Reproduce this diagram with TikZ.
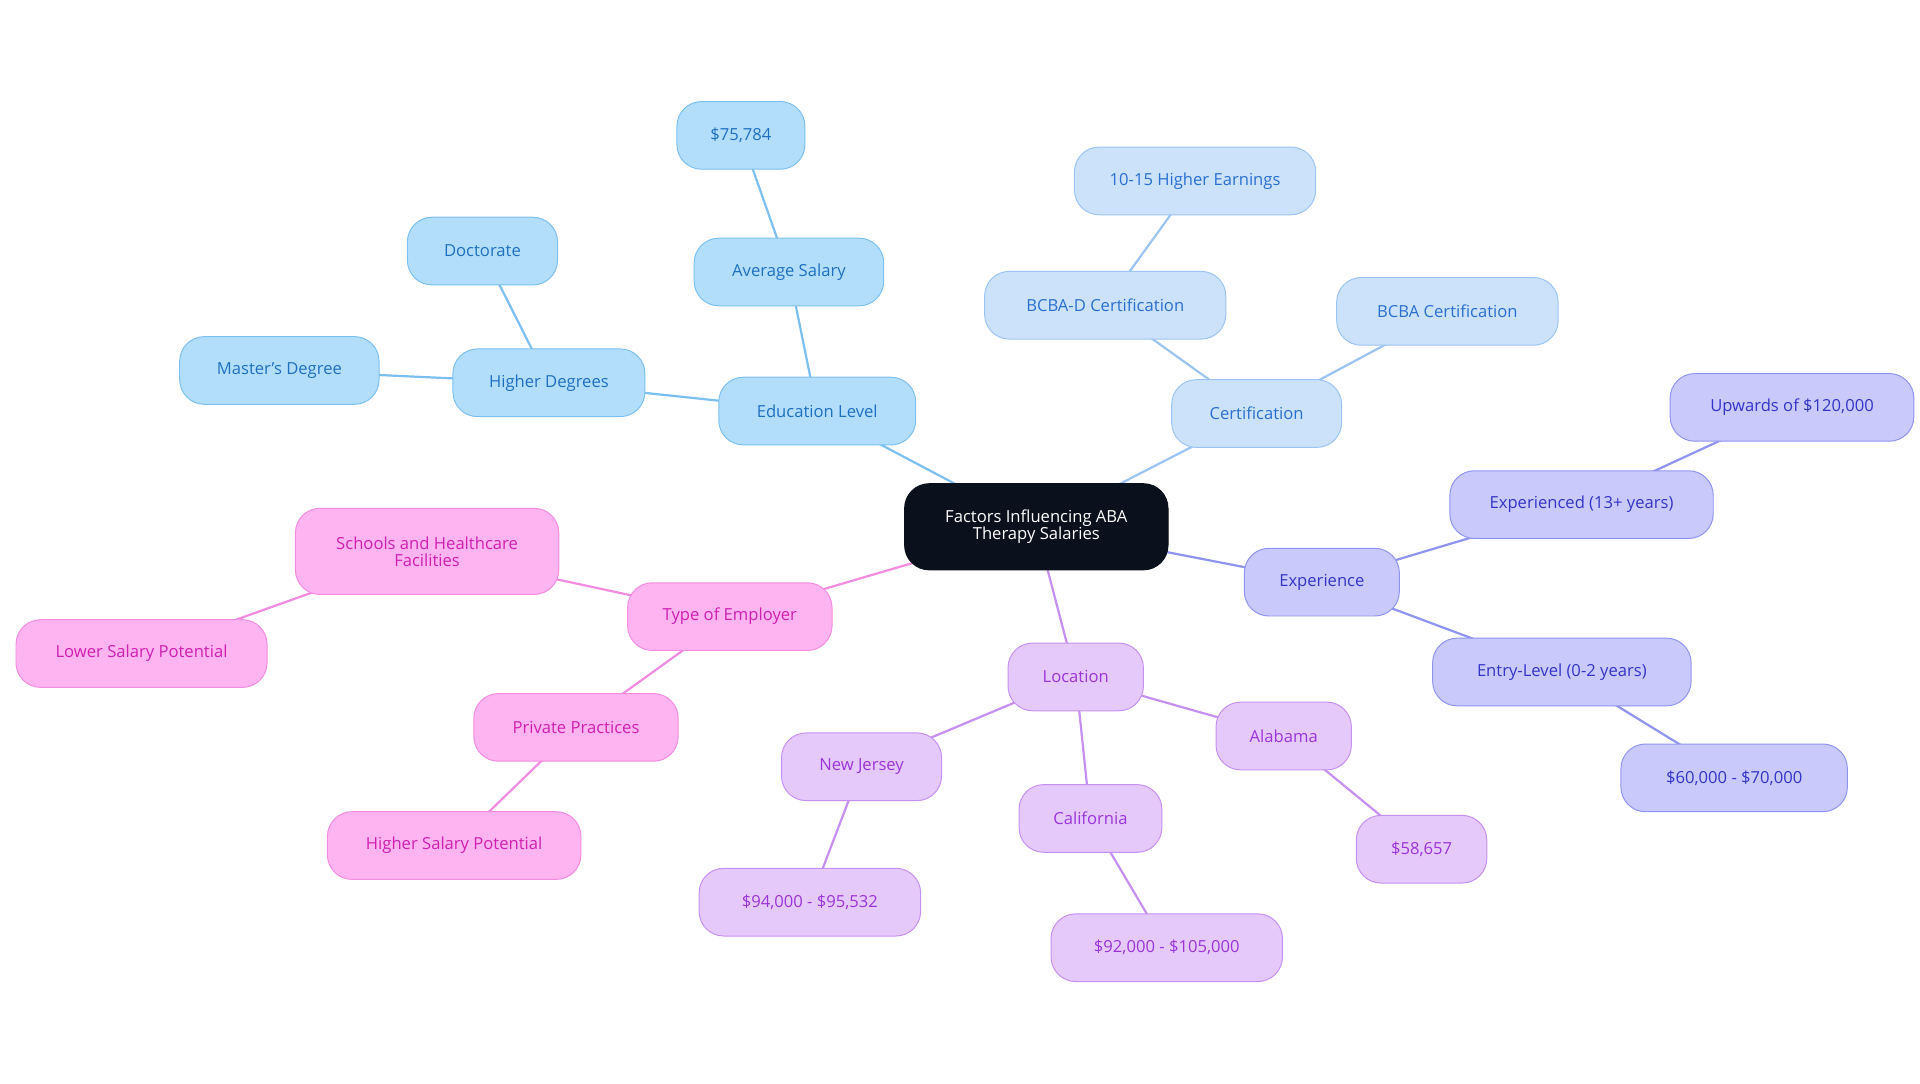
\documentclass[tikz,border=0pt]{standalone}
\usepackage{fontspec}
\setmainfont{Open Sans}
\usetikzlibrary{backgrounds}
\definecolor{bF}{HTML}{B3DEFB}\definecolor{bS}{HTML}{7CC0F0}\definecolor{bT}{HTML}{1E6FC0}
\definecolor{cF}{HTML}{CCE2FB}\definecolor{cS}{HTML}{9CC4F2}\definecolor{cT}{HTML}{2A6FCF}
\definecolor{eF}{HTML}{C9CAFB}\definecolor{eS}{HTML}{8F94F0}\definecolor{eT}{HTML}{3434C8}
\definecolor{lF}{HTML}{E6C9FB}\definecolor{lS}{HTML}{C690F0}\definecolor{lT}{HTML}{9A35D8}
\definecolor{pF}{HTML}{FDB4F0}\definecolor{pS}{HTML}{F28CE0}\definecolor{pT}{HTML}{D020B0}
\definecolor{dark}{HTML}{0B111C}
\tikzset{
 box/.style={rounded corners=20pt,minimum height=55pt,inner sep=0pt,align=center,font=\fontsize{13.5}{14}\selectfont,line width=0.8pt},
 bl/.style={box,fill=bF,draw=bS,text=bT},
 ce/.style={box,fill=cF,draw=cS,text=cT},
 ex/.style={box,fill=eF,draw=eS,text=eT},
 lo/.style={box,fill=lF,draw=lS,text=lT},
 em/.style={box,fill=pF,draw=pS,text=pT},
 ln/.style={line width=1.8pt},
}
\begin{document}
\begin{tikzpicture}[x=1pt,y=-1pt]
\useasboundingbox (0,0) rectangle (1560,880);
\node[box,fill=dark,draw=dark,text=white,minimum width=214pt,minimum height=70pt] (c) at (842,428) {Factors Influencing ABA\\Therapy Salaries};
\node[bl,minimum width=160pt] (ed) at (664,334) {Education Level};
\node[bl,minimum width=154pt] (av) at (641,221) {Average Salary};
\node[bl,minimum width=104pt] (av1) at (602,110) {\$75,784};
\node[bl,minimum width=156pt] (hd) at (446,311) {Higher Degrees};
\node[bl,minimum width=122pt] (doc) at (392,204) {Doctorate};
\node[bl,minimum width=162pt] (ms) at (227,301) {Master's Degree};
\node[ce,minimum width=138pt] (ct) at (1021,336) {Certification};
\node[ce,minimum width=196pt] (bd) at (898,248) {BCBA-D Certification};
\node[ce,minimum width=196pt] (he) at (971,147) {10-15 Higher Earnings};
\node[ce,minimum width=180pt] (bc) at (1176,253) {BCBA Certification};
\node[ex,minimum width=126pt] (xp) at (1074,473) {Experience};
\node[ex,minimum width=214pt] (x13) at (1285,410) {Experienced (13+ years)};
\node[ex,minimum width=198pt] (up) at (1456,331) {Upwards of \$120,000};
\node[ex,minimum width=210pt] (en) at (1269,546) {Entry-Level (0-2 years)};
\node[ex,minimum width=184pt] (sx) at (1409,632) {\$60,000 - \$70,000};
\node[lo,minimum width=110pt] (lc) at (874,550) {Location};
\node[lo,minimum width=130pt] (nj) at (700,623) {New Jersey};
\node[lo,minimum width=180pt] (nj1) at (658,733) {\$94,000 - \$95,532};
\node[lo,minimum width=116pt] (ca) at (886,665) {California};
\node[lo,minimum width=188pt] (ca1) at (948,770) {\$92,000 - \$105,000};
\node[lo,minimum width=110pt] (al) at (1043,598) {Alabama};
\node[lo,minimum width=106pt] (al1) at (1155,690) {\$58,657};
\node[em,minimum width=166pt] (te) at (593,501) {Type of Employer};
\node[em,minimum width=214pt,minimum height=70pt] (sh) at (347,448) {Schools and Healthcare\\Facilities};
\node[em,minimum width=204pt] (lsp) at (115,531) {Lower Salary Potential};
\node[em,minimum width=166pt] (pp) at (468,591) {Private Practices};
\node[em,minimum width=206pt] (hsp) at (369,687) {Higher Salary Potential};
\begin{scope}[on background layer]
\draw[ln,bS] (c.center)--(ed.center) (ed.center)--(av.center) (av.center)--(av1.center) (ed.center)--(hd.center) (hd.center)--(doc.center) (hd.center)--(ms.center);
\draw[ln,cS] (c.center)--(ct.center) (ct.center)--(bd.center) (bd.center)--(he.center) (ct.center)--(bc.center);
\draw[ln,eS] (c.center)--(xp.center) (xp.center)--(x13.center) (x13.center)--(up.center) (xp.center)--(en.center) (en.center)--(sx.center);
\draw[ln,lS] (c.center)--(lc.center) (lc.center)--(nj.center) (nj.center)--(nj1.center) (lc.center)--(ca.center) (ca.center)--(ca1.center) (lc.center)--(al.center) (al.center)--(al1.center);
\draw[ln,pS] (c.center)--(te.center) (te.center)--(sh.center) (sh.center)--(lsp.center) (te.center)--(pp.center) (pp.center)--(hsp.center);
\end{scope}
\end{tikzpicture}
\end{document}
